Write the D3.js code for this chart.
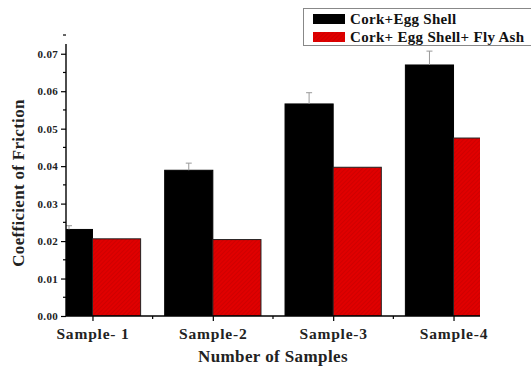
<!DOCTYPE html>
<html>
<head>
<meta charset="utf-8">
<script src="https://cdn.jsdelivr.net/npm/d3@7"></script>
<style>
  body { margin: 0; background: #fff; }
  text { font-family: "Liberation Serif", "Times New Roman", serif; font-weight: bold; }
</style>
</head>
<body>
<svg id="chart" width="531" height="368"></svg>
<script>
const samples = ["Sample- 1", "Sample-2", "Sample-3", "Sample-4"];
const seriesNames = ["Cork+Egg Shell", "Cork+ Egg Shell+ Fly Ash"];
const corkEgg = [0.0231, 0.0389, 0.0566, 0.0670];
const corkEggErr = [0.0010, 0.0019, 0.0030, 0.0037];
const corkEggFly = [0.0206, 0.0204, 0.0397, 0.0475];
const yTicks = [0, 0.01, 0.02, 0.03, 0.04, 0.05, 0.06, 0.07];

window.addEventListener('DOMContentLoaded', () => {
    const svg = d3.select('#chart');
    const left = 66, right = 480, top = 44, bottom = 316;

    const x = d3.scaleLinear().domain([0.78, 4.22]).range([left, right]);
    const y = d3.scaleLinear().domain([0, 0.0726]).range([bottom, top]);
    const barW = 0.4;

    const defs = svg.append('defs');
    defs.append('clipPath').attr('id', 'plotClip')
        .append('rect').attr('x', left).attr('y', 0).attr('width', right - left).attr('height', bottom);
    const pat = defs.append('pattern').attr('id', 'hatch')
        .attr('patternUnits', 'userSpaceOnUse').attr('width', 3).attr('height', 3)
        .attr('patternTransform', 'rotate(45)');
    pat.append('rect').attr('width', 3).attr('height', 3).attr('fill', '#e00000');
    pat.append('line').attr('x1', 0).attr('y1', 0).attr('x2', 0).attr('y2', 3)
        .attr('stroke', '#b80000').attr('stroke-width', 0.8);

    const plot = svg.append('g').attr('clip-path', 'url(#plotClip)');

    // error bars (drawn first, bars cover the lower part)
    const errX = (d, i) => Math.max(x(i + 1 - barW / 2), left + 3);
    const err = svg.append('g').attr('stroke', '#999').attr('stroke-width', 1);
    corkEgg.forEach((v, i) => {
        const cx = errX(v, i);
        err.append('line').attr('x1', cx).attr('x2', cx).attr('y1', y(v)).attr('y2', y(v + corkEggErr[i]));
        err.append('line').attr('x1', cx - 3).attr('x2', cx + 3)
            .attr('y1', y(v + corkEggErr[i])).attr('y2', y(v + corkEggErr[i]));
    });

    plot.selectAll('rect.black').data(corkEgg).join('rect')
        .attr('class', 'black')
        .attr('x', (d, i) => x(i + 1 - barW))
        .attr('width', x(barW) - x(0))
        .attr('y', d => y(d))
        .attr('height', d => bottom - y(d))
        .attr('fill', '#000').attr('stroke', '#000');

    plot.selectAll('rect.red').data(corkEggFly).join('rect')
        .attr('class', 'red')
        .attr('x', (d, i) => x(i + 1))
        .attr('width', x(barW) - x(0))
        .attr('y', d => y(d))
        .attr('height', d => bottom - y(d))
        .attr('fill', 'url(#hatch)').attr('stroke', '#222').attr('stroke-width', 1);

    // y axis
    const yAxis = svg.append('g').attr('transform', `translate(${left},0)`)
        .call(d3.axisLeft(y).tickValues(yTicks).tickFormat(d3.format('.2f')).tickSize(5).tickPadding(3));
    yAxis.selectAll('text').attr('font-size', 11).attr('letter-spacing', 0.3).attr('fill', '#222');
    yAxis.selectAll('line').attr('stroke-width', 1.2);
    yAxis.select('.domain').attr('d', `M0,${bottom}V${top}`).attr('stroke-width', 1.4);
    yAxis.append('g').selectAll('line').data(yTicks.map(t => t + 0.005)).join('line')
        .attr('x1', 0).attr('x2', -3).attr('y1', d => y(d)).attr('y2', d => y(d))
        .attr('stroke', '#000').attr('stroke-width', 1.2);

    // x axis
    const xAxis = svg.append('g').attr('transform', `translate(0,${bottom})`)
        .call(d3.axisBottom(x).tickValues([1, 2, 3, 4]).tickFormat((d, i) => samples[i]).tickSize(5).tickPadding(7));
    xAxis.selectAll('text').attr('font-size', 15.5).attr('letter-spacing', 0.8).attr('fill', '#222');
    xAxis.selectAll('line').attr('stroke-width', 1.2);
    xAxis.select('.domain').attr('d', `M${left},0H${right}`).attr('stroke-width', 1.4);
    xAxis.append('g').selectAll('line').data([1.5, 2.5, 3.5]).join('line')
        .attr('x1', d => x(d)).attr('x2', d => x(d)).attr('y1', 0).attr('y2', 3)
        .attr('stroke', '#000').attr('stroke-width', 1.2);

    // axis titles
    svg.append('text').attr('x', 273).attr('y', 362).attr('text-anchor', 'middle')
        .attr('font-size', 17).attr('letter-spacing', 0.4).attr('fill', '#222').text('Number of Samples');
    svg.append('text').attr('transform', `translate(24,183) rotate(-90)`).attr('text-anchor', 'middle')
        .attr('font-size', 17).attr('letter-spacing', 0.3).attr('fill', '#222').text('Coefficient of Friction');

    // legend
    const lg = svg.append('g');
    lg.append('rect').attr('x', 303.5).attr('y', 8.5).attr('width', 240).attr('height', 37)
        .attr('fill', '#fff').attr('stroke', '#888').attr('stroke-width', 1);
    const fills = ['#000', 'url(#hatch)'];
    seriesNames.forEach((name, i) => {
        lg.append('rect').attr('x', 313).attr('y', 14 + i * 18).attr('width', 32).attr('height', 10)
            .attr('fill', fills[i]);
        lg.append('text').attr('x', 350).attr('y', 24 + i * 18)
            .attr('font-size', 15).attr('letter-spacing', 0.3).attr('fill', '#111').text(name);
    });
});
</script>
</body>
</html>
